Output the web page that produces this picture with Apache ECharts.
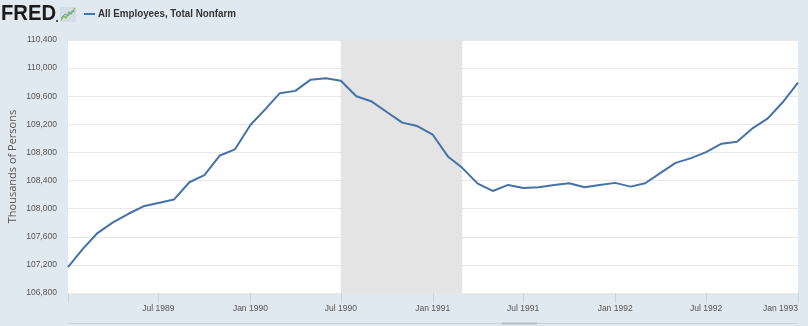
<!DOCTYPE html>
<html>
<head>
<meta charset="utf-8">
<script src="https://cdn.jsdelivr.net/npm/echarts@6/dist/echarts.min.js"></script>
<style>
  html, body { margin: 0; padding: 0; background: #e1e9f0; }
  #chart { width: 808px; height: 326px; }
</style>
</head>
<body>
<div id="chart"></div>
<script>
// All Employees, Total Nonfarm (thousands of persons), monthly
const months = [
  '1989-01','1989-02','1989-03','1989-04','1989-05','1989-06','1989-07','1989-08','1989-09','1989-10','1989-11','1989-12',
  '1990-01','1990-02','1990-03','1990-04','1990-05','1990-06','1990-07','1990-08','1990-09','1990-10','1990-11','1990-12',
  '1991-01','1991-02','1991-03','1991-04','1991-05','1991-06','1991-07','1991-08','1991-09','1991-10','1991-11','1991-12',
  '1992-01','1992-02','1992-03','1992-04','1992-05','1992-06','1992-07','1992-08','1992-09','1992-10','1992-11','1992-12',
  '1993-01'
];
const payrolls = [
  107167, 107438, 107653, 107805, 107924, 108033, 108081, 108129, 108376, 108476, 108757, 108843,
  109190, 109424, 109643, 109676, 109833, 109857, 109819, 109600, 109524, 109376, 109224, 109176,
  109052, 108738, 108581, 108357, 108252, 108338, 108295, 108305, 108338, 108362, 108305, 108338,
  108367, 108314, 108362, 108510, 108652, 108719, 108805, 108924, 108952, 109138, 109281, 109510,
  109795
];
// Recession period (shaded)
const recessionStart = '1990-07-01';
const recessionEnd = '1991-03-01';

const seriesName = 'All Employees, Total Nonfarm';
const yAxisName = 'Thousands of Persons';
const yMin = 106800, yMax = 110400, yStep = 400;
const monthNames = ['Jan','Feb','Mar','Apr','May','Jun','Jul','Aug','Sep','Oct','Nov','Dec'];

const chart = echarts.init(document.getElementById('chart'), null, { renderer: 'canvas' });
const DAY = 24 * 3600 * 1000;
const START = new Date('1989-01-01T00:00:00').getTime();
const tickFont = '"Liberation Sans", Arial, sans-serif';

chart.setOption({
  backgroundColor: '#e1e9f0',
  animation: false,
  grid: {
    left: 68, right: 10, top: 40, bottom: 33,
    outerBoundsMode: 'none', containLabel: false,
    show: true, backgroundColor: '#ffffff', borderWidth: 0
  },
  xAxis: {
    type: 'time',
    min: '1989-01-01',
    max: '1993-01-01',
    minInterval: 180 * DAY,
    maxInterval: 185 * DAY,
    splitNumber: 8,
    axisLine: { show: false },
    axisTick: { show: true, length: 10, lineStyle: { color: '#cbd4dd', width: 1 } },
    splitLine: { show: false },
    axisLabel: {
      showMinLabel: false,
      showMaxLabel: true,
      alignMaxLabel: 'right',
      hideOverlap: false,
      margin: 11,
      color: '#555',
      fontSize: 8.5,
      fontFamily: tickFont,
      formatter: function (v) {
        if (v <= START + DAY) return '';
        const d = new Date(v);
        return monthNames[d.getMonth()] + ' ' + d.getFullYear();
      }
    }
  },
  yAxis: {
    type: 'value',
    min: yMin,
    max: yMax,
    interval: yStep,
    name: yAxisName,
    nameLocation: 'middle',
    nameGap: 50,
    nameMoveOverlap: false,
    nameTextStyle: { color: '#555', fontSize: 11, fontFamily: '"Open Sans", sans-serif' },
    axisLine: { show: false },
    axisTick: { show: false },
    splitLine: { show: true, lineStyle: { color: '#e8e8e8', width: 1 } },
    axisLabel: {
      margin: 11,
      color: '#555',
      fontSize: 8.5,
      fontFamily: tickFont,
      formatter: function (v) { return v.toLocaleString('en-US'); }
    }
  },
  series: [{
    name: seriesName,
    type: 'line',
    showSymbol: false,
    data: months.map((m, i) => [m + '-01', payrolls[i]]),
    lineStyle: { color: '#4572a7', width: 2 },
    itemStyle: { color: '#4572a7' },
    markArea: {
      silent: true,
      itemStyle: { color: '#e4e4e4' },
      data: [[{ xAxis: recessionStart }, { xAxis: recessionEnd }]]
    },
    z: 3
  }],
  graphic: [
    // FRED wordmark
    { type: 'text', x: 1, y: 3, scaleX: 0.92, style: { text: 'FRED', fill: '#1a1a1a', font: 'bold 22px "Liberation Sans", Arial, sans-serif' } },
    { type: 'circle', shape: { cx: 57, cy: 21, r: 1 }, style: { fill: '#1a1a1a' } },
    // small chart icon
    { type: 'rect', shape: { x: 60, y: 7, width: 16, height: 15 }, style: { fill: '#d5dde4' } },
    { type: 'polyline', shape: { points: [[61, 20], [64, 16], [66, 18], [69, 12], [71, 14], [75, 8]] }, style: { stroke: '#7cb342', lineWidth: 1.2, fill: null } },
    { type: 'polyline', shape: { points: [[61, 18], [65, 14], [68, 16], [72, 11], [75, 12]] }, style: { stroke: '#6f9bd1', lineWidth: 1, fill: null } },
    // legend
    { type: 'line', shape: { x1: 84, y1: 14, x2: 95, y2: 14 }, style: { stroke: '#4572a7', lineWidth: 2 } },
    { type: 'text', x: 98, y: 8, scaleX: 0.89, style: { text: seriesName, fill: '#333', font: 'bold 11px "Liberation Sans", Arial, sans-serif' } },
    // navigator rule at the bottom
    { type: 'line', shape: { x1: 68, y1: 323.5, x2: 798, y2: 323.5 }, style: { stroke: '#c9d1d9', lineWidth: 1 } },
    { type: 'line', shape: { x1: 502, y1: 323.5, x2: 537, y2: 323.5 }, style: { stroke: '#b5bcc3', lineWidth: 2 } }
  ]
});
</script>
</body>
</html>
